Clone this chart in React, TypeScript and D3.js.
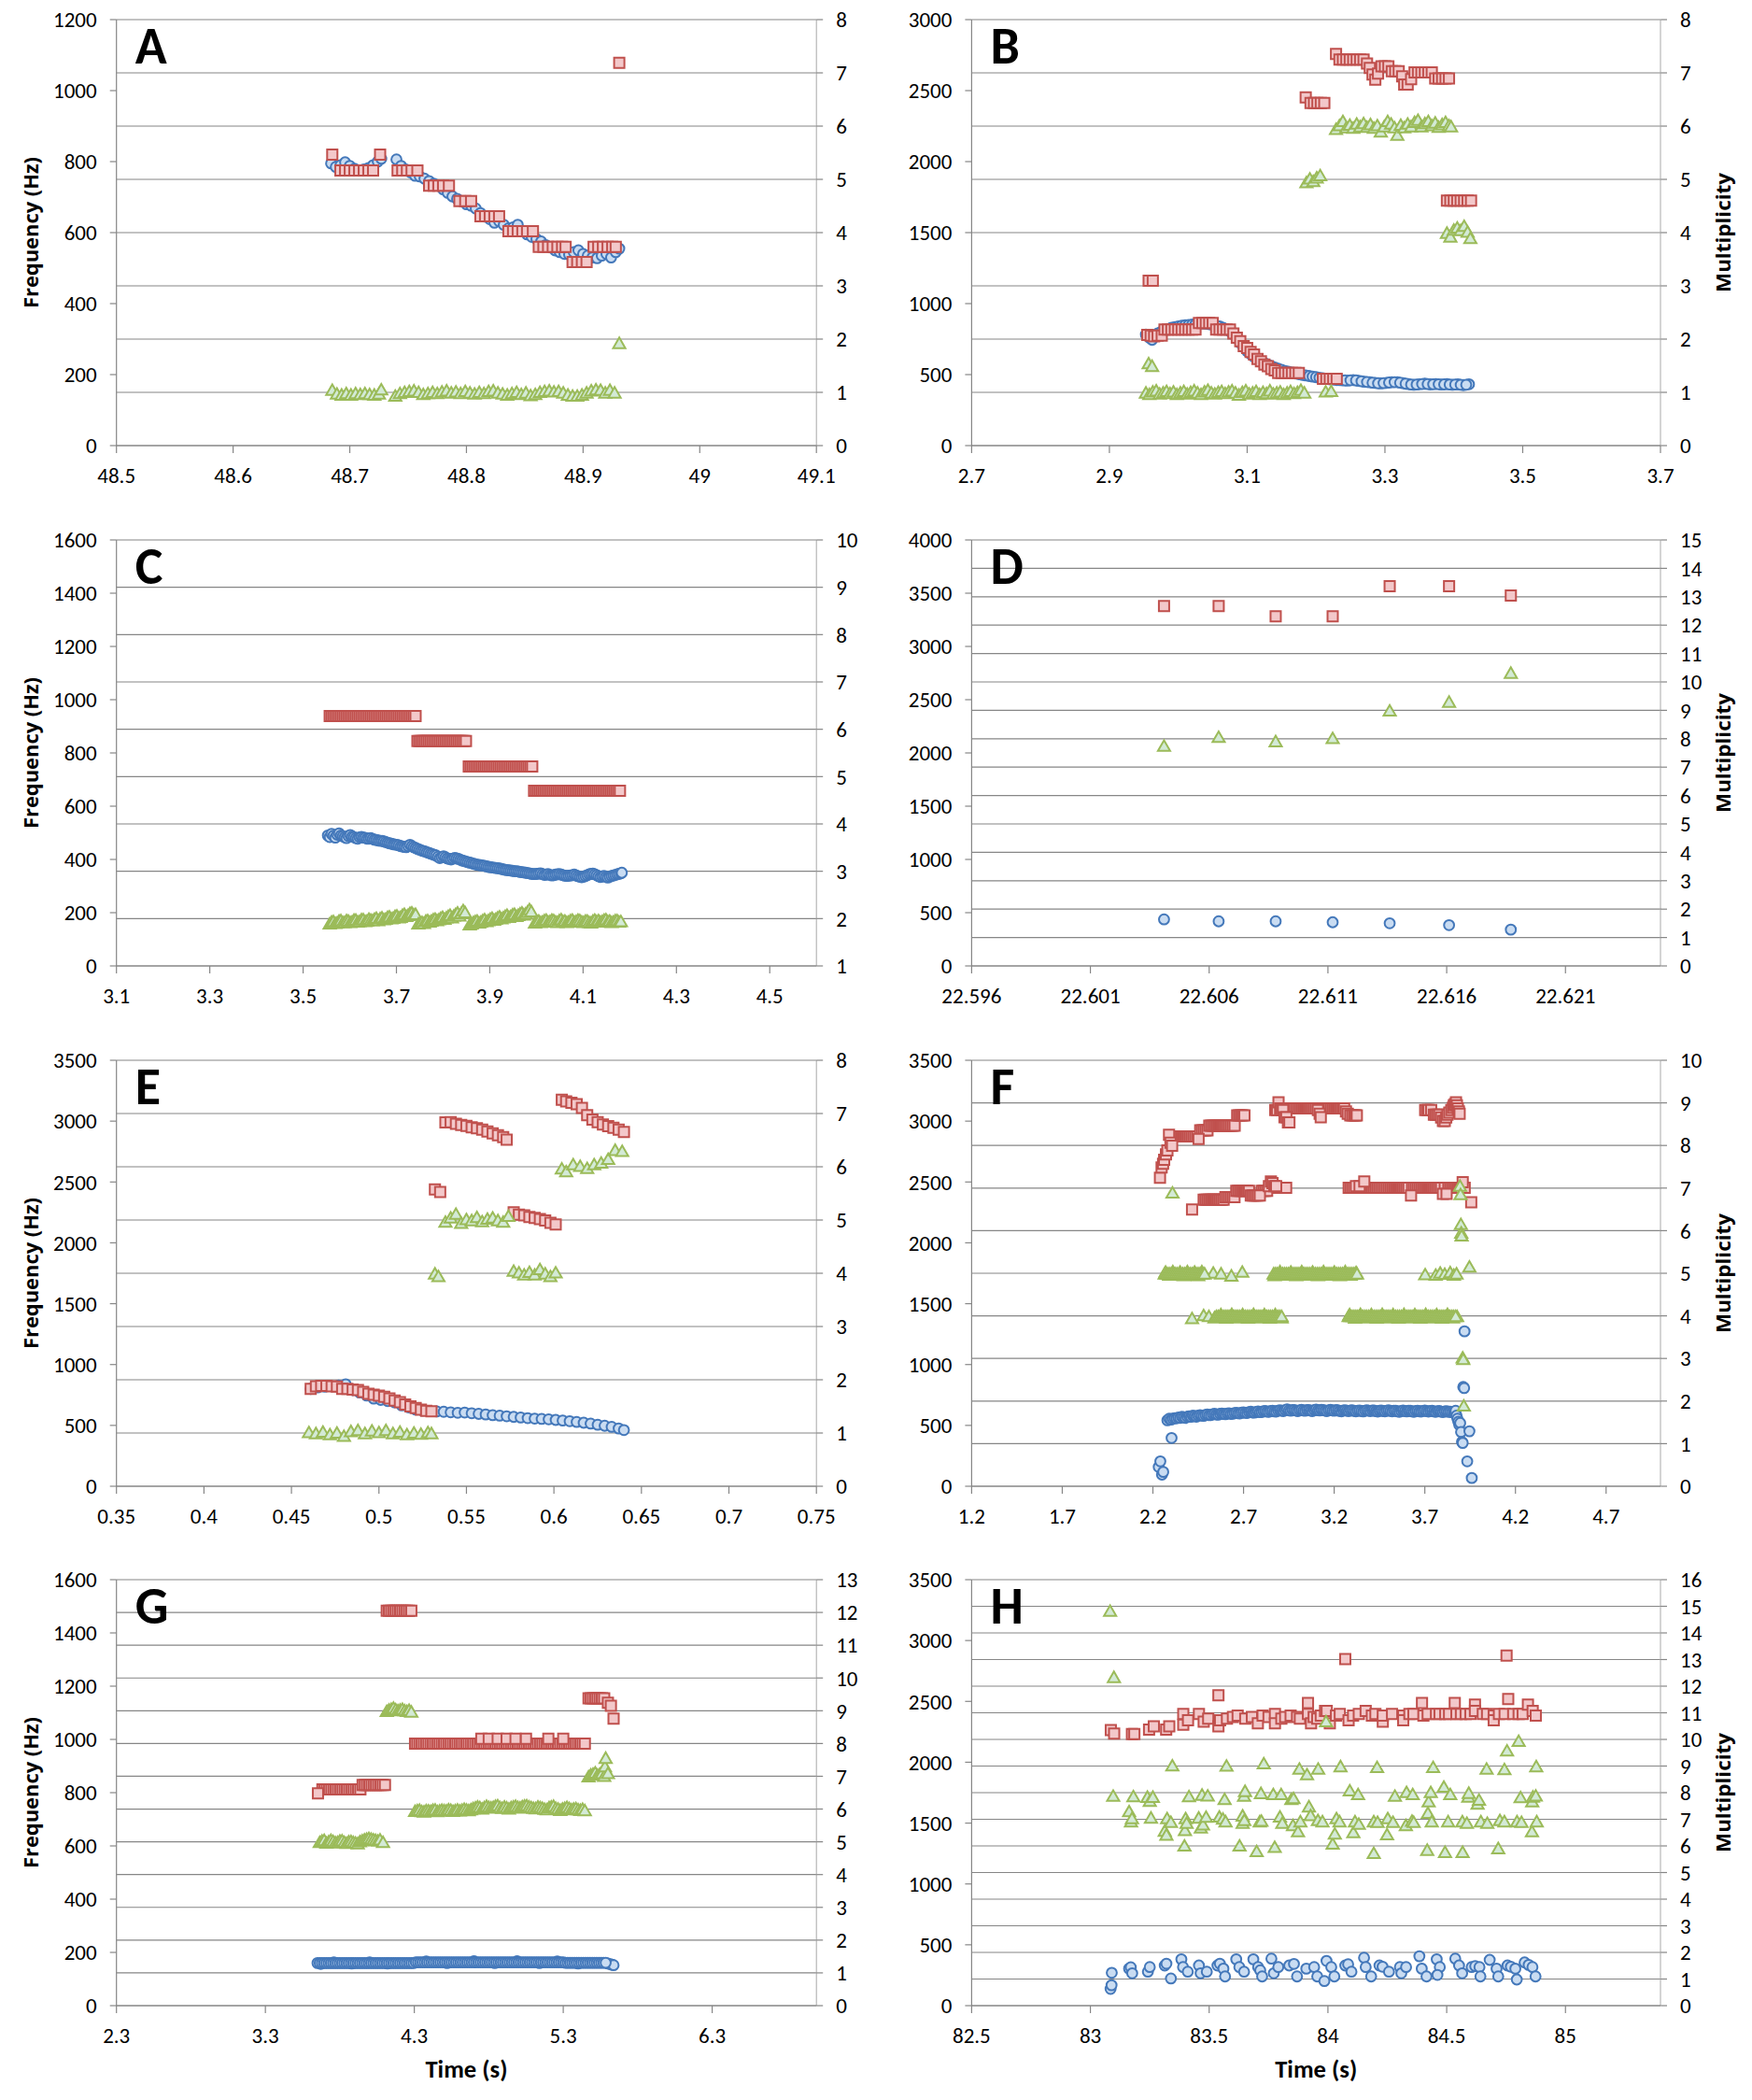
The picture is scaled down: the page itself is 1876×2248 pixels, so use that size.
import React from 'react';
import * as d3 from 'd3';

// ---------- axis ticks ----------
const aTimeTicks = [48.5, 48.6, 48.7, 48.8, 48.9, 49, 49.1];
const bTimeTicks = [2.7, 2.9, 3.1, 3.3, 3.5, 3.7];
const cTimeTicks = [3.1, 3.3, 3.5, 3.7, 3.9, 4.1, 4.3, 4.5];
const dTimeTicks = [22.596, 22.601, 22.606, 22.611, 22.616, 22.621];
const eTimeTicks = [0.35, 0.4, 0.45, 0.5, 0.55, 0.6, 0.65, 0.7, 0.75];
const fTimeTicks = [1.2, 1.7, 2.2, 2.7, 3.2, 3.7, 4.2, 4.7];
const gTimeTicks = [2.3, 3.3, 4.3, 5.3, 6.3];
const hTimeTicks = [82.5, 83, 83.5, 84, 84.5, 85];

const freq1200 = [0, 200, 400, 600, 800, 1000, 1200];
const freq1600 = [0, 200, 400, 600, 800, 1000, 1200, 1400, 1600];
const freq3000 = [0, 500, 1000, 1500, 2000, 2500, 3000];
const freq3500 = [0, 500, 1000, 1500, 2000, 2500, 3000, 3500];
const freq4000 = [0, 500, 1000, 1500, 2000, 2500, 3000, 3500, 4000];

const mult8 = [0, 1, 2, 3, 4, 5, 6, 7, 8];
const mult1to10 = [1, 2, 3, 4, 5, 6, 7, 8, 9, 10];
const mult10 = [0, 1, 2, 3, 4, 5, 6, 7, 8, 9, 10];
const mult13 = [0, 1, 2, 3, 4, 5, 6, 7, 8, 9, 10, 11, 12, 13];
const mult15 = [0, 1, 2, 3, 4, 5, 6, 7, 8, 9, 10, 11, 12, 13, 14, 15];
const mult16 = [0, 1, 2, 3, 4, 5, 6, 7, 8, 9, 10, 11, 12, 13, 14, 15, 16];

// rows of frames that sit on one quantised level: [level, times]
const rows = (list) => list.flatMap(([lvl, ts]) => ts.map(t => [t, lvl]));

// ---------- panel A ----------
const aBlue = [[48.684,795],[48.688,785],[48.692,790],[48.696,798],[48.700,788],[48.704,780],[48.708,775],[48.712,778],[48.716,782],[48.720,790],[48.724,800],[48.727,808],
[48.740,806],[48.744,788],[48.748,778],[48.752,770],[48.756,760],[48.760,758],[48.764,752],[48.768,745],[48.772,738],[48.776,732],[48.780,722],[48.784,712],[48.788,702],[48.792,695],[48.796,688],[48.800,680],[48.804,676],[48.808,668],[48.812,655],[48.816,645],[48.820,638],[48.824,628],[48.828,632],[48.832,622],[48.836,612],[48.840,615],[48.844,622],[48.848,605],[48.852,595],[48.856,588],[48.860,582],[48.864,575],[48.868,565],[48.872,558],[48.876,550],[48.880,545],[48.884,540],[48.888,538],[48.892,545],[48.896,550],[48.900,540],[48.904,535],[48.908,530],[48.912,528],[48.916,535],[48.920,540],[48.924,530],[48.928,545],[48.931,555]];
const aRed = [[48.685,820],[48.692,775],[48.696,775],[48.700,775],[48.704,775],[48.708,775],[48.712,775],[48.716,775],[48.720,775],[48.726,820],[48.741,775],[48.745,775],[48.749,775],[48.753,775],[48.758,775],[48.768,732],[48.772,732],[48.776,732],[48.780,732],[48.785,732],[48.794,689],[48.799,689],[48.804,689],[48.812,646],[48.816,646],[48.820,646],[48.824,646],[48.828,646],[48.836,604],[48.840,604],[48.844,604],[48.848,604],[48.852,604],[48.857,604],[48.862,560],[48.866,560],[48.870,560],[48.874,560],[48.878,560],[48.882,560],[48.885,560],[48.891,517],[48.895,517],[48.899,517],[48.903,517],[48.909,560],[48.913,560],[48.917,560],[48.921,560],[48.925,560],[48.928,560],[48.931,1078]];
const aGreen = [[48.685,1.05],[48.689,0.98],[48.693,0.96],[48.697,0.99],[48.701,0.96],[48.705,0.99],[48.709,0.97],[48.713,0.99],[48.717,0.97],[48.721,0.96],[48.725,0.98],[48.727,1.06],[48.739,0.94],[48.743,0.99],[48.747,1.01],[48.751,1.03],[48.755,1.04],[48.759,1.01],[48.763,0.97],[48.767,0.99],[48.771,1.01],[48.775,0.99],[48.779,1.02],[48.783,1.04],[48.787,1.0],[48.791,1.02],[48.795,0.99],[48.799,1.03],[48.803,1.0],[48.807,0.98],[48.811,1.01],[48.815,0.99],[48.819,1.03],[48.823,1.04],[48.827,1.0],[48.831,0.98],[48.835,0.96],[48.839,0.99],[48.843,1.01],[48.847,0.97],[48.851,1.0],[48.855,0.95],[48.859,0.97],[48.863,1.01],[48.867,1.03],[48.871,1.04],[48.875,1.02],[48.879,1.03],[48.883,1.0],[48.887,0.96],[48.891,0.94],[48.895,0.94],[48.899,0.96],[48.903,1.0],[48.907,1.04],[48.911,1.06],[48.915,1.05],[48.919,1.0],[48.923,1.05],[48.927,1.0],[48.931,1.93]];

// ---------- panel B ----------
const bBlue = [[2.953,782],[2.958,760],[2.962,745],[2.966,770],[2.970,790],[2.975,800],[2.980,810],[2.985,820],[2.990,830],[2.995,835],[3.000,840],[3.005,845],[3.010,848],[3.015,850],[3.020,852],[3.025,855],[3.030,858],[3.035,860],[3.040,858],[3.045,855],[3.050,850],[3.055,845],[3.060,840],[3.065,830],[3.070,818],[3.075,805],[3.080,785],[3.085,755],[3.090,722],[3.095,692],[3.100,665],[3.105,645],[3.110,625],[3.115,610],[3.120,595],[3.125,582],[3.130,570],[3.135,560],[3.140,550],[3.145,541],[3.150,533],[3.155,526],[3.160,520],[3.165,513],[3.170,508],[3.175,503],[3.180,498],[3.185,494],[3.190,490],[3.195,486],[3.200,482],[3.205,478],[3.210,474],[3.215,470],[3.220,467],[3.225,465],[3.230,462],[3.238,460],[3.246,458],[3.254,462],[3.262,456],[3.270,450],[3.278,446],[3.286,441],[3.294,438],[3.302,442],[3.310,446],[3.318,447],[3.326,440],[3.334,433],[3.342,428],[3.350,432],[3.358,436],[3.366,431],[3.374,434],[3.382,430],[3.390,433],[3.398,428],[3.406,431],[3.414,426],[3.422,432],
[3.234,461],[3.242,459],[3.250,460],[3.258,459],[3.266,453],[3.274,448],[3.282,443],[3.290,439],[3.298,440],[3.306,444],[3.314,447],[3.322,443],[3.330,436],[3.338,430],[3.346,430],[3.354,434],[3.362,433],[3.370,432],[3.378,432],[3.386,431],[3.394,430],[3.402,430],[3.410,428],[3.418,429]];
const bRed = [[2.955,780],[2.960,775],[2.965,770],[2.970,775],[2.976,775],[2.980,817],[2.985,817],[2.990,817],[2.995,817],[3.000,817],[3.005,817],[3.010,817],[3.015,817],[3.020,817],[3.025,817],[3.030,864],[3.035,864],[3.040,864],[3.045,864],[3.050,864],[3.055,817],[3.060,817],[3.065,817],[3.070,817],[3.075,817],[3.080,790],[3.085,760],[3.090,735],[3.095,700],[3.100,688],[3.105,660],[3.110,641],[3.115,610],[3.120,594],[3.125,570],[3.130,559],[3.135,540],[3.140,530],[3.145,512],[3.150,512],[3.155,512],[3.160,512],[3.165,512],[3.170,512],[3.175,512],[3.210,470],[3.215,470],[3.220,470],[3.225,470],[3.230,470],
[2.957,1162],[2.963,1162],
[3.185,2453],[3.192,2413],[3.197,2413],[3.202,2413],[3.207,2413],[3.212,2413],
[3.229,2758],[3.234,2718],[3.239,2718],[3.244,2718],[3.249,2718],[3.254,2718],[3.259,2718],[3.264,2718],[3.269,2718],[3.274,2690],[3.278,2660],[3.282,2613],[3.286,2577],[3.290,2620],[3.295,2671],[3.300,2671],[3.305,2671],[3.310,2636],[3.315,2636],[3.320,2636],[3.325,2600],[3.328,2542],[3.333,2542],[3.338,2580],[3.343,2629],[3.348,2629],[3.353,2629],[3.358,2629],[3.363,2629],[3.368,2629],[3.373,2585],[3.378,2585],[3.383,2585],[3.388,2585],[3.393,2585],
[3.390,1725],[3.395,1725],[3.400,1725],[3.405,1725],[3.410,1725],[3.415,1725],[3.420,1725],[3.425,1725]];
const bGreen = [[2.953,1.0],[2.958,0.97],[2.963,1.02],[2.968,1.04],[2.973,0.98],[2.978,1.0],[2.983,1.03],[2.988,0.99],[2.993,1.02],[2.998,0.97],[3.003,1.0],[3.008,1.03],[3.013,0.98],[3.018,1.01],[3.023,1.04],[3.028,1.0],[3.033,0.97],[3.038,1.02],[3.043,1.05],[3.048,1.0],[3.053,0.98],[3.058,1.01],[3.063,1.03],[3.068,0.99],[3.073,1.02],[3.078,1.04],[3.083,1.0],[3.088,0.96],[3.093,1.01],[3.098,1.04],[3.103,0.98],[3.108,1.0],[3.113,1.03],[3.118,0.97],[3.123,1.01],[3.128,0.99],[3.133,1.04],[3.138,0.98],[3.143,1.0],[3.148,1.02],[3.153,0.97],[3.158,1.0],[3.163,1.03],[3.168,0.99],[3.173,1.01],[3.178,1.05],[3.183,1.0],
[2.957,1.55],[2.962,1.5],[3.214,1.02],[3.222,1.03],
[3.186,4.95],[3.191,5.02],[3.196,4.97],[3.201,5.04],[3.206,5.08],
[3.229,5.95],[3.234,6.02],[3.239,6.1],[3.244,5.98],[3.249,6.03],[3.254,5.97],[3.259,6.05],[3.264,6.0],[3.269,6.06],[3.274,5.99],[3.279,6.04],[3.284,5.97],[3.289,6.02],[3.294,5.9],[3.299,6.0],[3.304,6.1],[3.309,6.05],[3.314,5.98],[3.318,5.84],[3.323,6.03],[3.328,5.98],[3.333,6.05],[3.338,6.0],[3.343,6.08],[3.348,6.12],[3.353,6.0],[3.358,6.06],[3.363,6.1],[3.368,6.02],[3.373,6.07],[3.378,5.99],[3.383,6.04],[3.388,6.08],[3.393,6.02],[3.396,6.0],
[3.390,4.0],[3.395,3.93],[3.400,4.06],[3.405,4.1],[3.410,4.05],[3.415,4.13],[3.420,4.02],[3.424,3.9]];

// ---------- panel C ----------
const cBlue = [[3.553,490],[3.557,484],[3.561,496],[3.565,489],[3.569,482],[3.573,493],[3.577,498],[3.581,490],[3.585,487],[3.589,483],[3.593,480],[3.597,488],[3.601,492],[3.605,486],[3.609,484],[3.613,480],[3.617,478],[3.621,483],[3.625,485],[3.629,482],[3.633,481],[3.637,478],[3.641,478],[3.645,480],[3.649,477],[3.653,474],[3.657,473],[3.661,471],[3.665,470],[3.669,470],[3.673,468],[3.677,465],[3.681,463],[3.685,461],[3.689,459],[3.693,457],[3.697,456],[3.701,455],[3.705,453],[3.709,450],[3.713,449],[3.717,447],[3.721,446],[3.725,450],[3.729,455],[3.733,450],[3.737,446],[3.741,443],[3.745,440],[3.749,437],[3.753,434],[3.757,432],[3.761,430],[3.765,427],[3.769,425],[3.773,422],[3.777,420],[3.781,417],[3.785,415],[3.789,410],[3.793,405],[3.797,408],[3.801,412],[3.805,408],[3.809,404],[3.813,402],[3.817,400],[3.821,403],[3.825,406],[3.829,404],[3.833,402],[3.837,399],[3.841,396],[3.845,394],[3.849,392],[3.853,390],[3.857,388],[3.861,386],[3.865,384],[3.869,382],[3.873,380],[3.877,379],[3.881,378],[3.885,377],[3.889,376],[3.893,374],[3.897,372],[3.901,371],[3.905,370],[3.909,369],[3.913,368],[3.917,367],[3.921,366],[3.925,364],[3.929,363],[3.933,361],[3.937,360],[3.941,359],[3.945,358],[3.949,357],[3.953,356],[3.957,356],[3.961,355],[3.965,353],[3.969,352],[3.973,351],[3.977,350],[3.981,349],[3.985,348],[3.989,346],[3.993,345],[3.997,345],[4.001,346],[4.005,347],[4.009,348],[4.013,345],[4.017,342],[4.021,343],[4.025,345],[4.029,342],[4.033,340],[4.037,341],[4.041,343],[4.045,344],[4.049,345],[4.053,343],[4.057,341],[4.061,339],[4.065,338],[4.069,339],[4.073,340],[4.077,341],[4.081,343],[4.085,340],[4.089,337],[4.093,335],[4.097,333],[4.101,335],[4.105,338],[4.109,341],[4.113,344],[4.117,346],[4.121,347],[4.125,344],[4.129,341],[4.133,337],[4.137,334],[4.141,336],[4.145,338],[4.149,335],[4.153,332],[4.157,335],[4.161,338],[4.165,340],[4.169,342],[4.173,344],[4.177,346],[4.181,348],[4.183,350]];
const cRedRows = [
  [939, [3.557,3.561,3.565,3.569,3.573,3.577,3.581,3.585,3.589,3.593,3.597,3.601,3.605,3.609,3.613,3.617,3.621,3.625,3.629,3.633,3.637,3.641,3.645,3.649,3.653,3.657,3.661,3.665,3.669,3.673,3.677,3.681,3.685,3.689,3.693,3.697,3.701,3.705,3.709,3.713,3.717,3.721,3.725,3.729,3.733,3.737,3.741]],
  [845, [3.745,3.749,3.753,3.757,3.761,3.765,3.769,3.773,3.777,3.781,3.785,3.789,3.793,3.797,3.801,3.805,3.809,3.813,3.817,3.821,3.825,3.829,3.833,3.837,3.841,3.845,3.849]],
  [749, [3.855,3.859,3.863,3.867,3.871,3.875,3.879,3.883,3.887,3.891,3.895,3.899,3.903,3.907,3.911,3.915,3.919,3.923,3.927,3.931,3.935,3.939,3.943,3.947,3.951,3.955,3.959,3.963,3.967,3.971,3.975,3.979,3.983,3.987,3.991]],
  [658, [3.995,3.999,4.003,4.007,4.011,4.015,4.019,4.023,4.027,4.031,4.035,4.039,4.043,4.047,4.051,4.055,4.059,4.063,4.067,4.071,4.075,4.079,4.083,4.087,4.091,4.095,4.099,4.103,4.107,4.111,4.115,4.119,4.123,4.127,4.131,4.135,4.139,4.143,4.147,4.151,4.155,4.159,4.163,4.167,4.171,4.175,4.179]],
];
const cGreen = [[3.557,1.90],[3.561,1.94],[3.565,1.95],[3.569,1.91],[3.573,1.92],[3.577,1.96],[3.581,1.97],[3.585,1.93],[3.589,1.93],[3.593,1.97],[3.597,1.96],[3.601,1.93],[3.605,1.94],[3.609,1.98],[3.613,1.98],[3.617,1.94],[3.621,1.95],[3.625,1.99],[3.629,1.99],[3.633,1.95],[3.637,1.96],[3.641,2.0],[3.645,1.98],[3.649,1.97],[3.653,2.0],[3.657,2.02],[3.661,1.97],[3.665,2.01],[3.669,2.03],[3.673,1.99],[3.677,2.0],[3.681,2.04],[3.685,2.05],[3.689,2.01],[3.693,2.02],[3.697,2.06],[3.701,2.07],[3.705,2.03],[3.709,2.04],[3.713,2.08],[3.717,2.1],[3.721,2.06],[3.725,2.08],[3.729,2.12],[3.733,2.13],[3.737,2.09],[3.741,2.1],
[3.747,1.9],[3.751,1.92],[3.755,1.93],[3.759,1.91],[3.763,1.96],[3.767,1.97],[3.771,1.94],[3.775,1.96],[3.779,1.99],[3.783,2.0],[3.787,1.97],[3.791,1.99],[3.795,2.02],[3.799,2.04],[3.803,2.0],[3.807,2.03],[3.811,2.06],[3.815,2.08],[3.819,2.03],[3.823,2.07],[3.827,2.1],[3.831,2.13],[3.835,2.07],[3.839,2.12],[3.843,2.18],[3.847,2.14],
[3.857,1.88],[3.861,1.9],[3.865,1.93],[3.869,1.95],[3.873,1.96],[3.877,1.92],[3.881,1.94],[3.885,1.97],[3.889,1.99],[3.893,1.95],[3.897,1.97],[3.901,2.0],[3.905,2.02],[3.909,1.98],[3.913,2.0],[3.917,2.03],[3.921,2.05],[3.925,2.01],[3.929,2.03],[3.933,2.06],[3.937,2.08],[3.941,2.04],[3.945,2.06],[3.949,2.09],[3.953,2.1],[3.957,2.06],[3.961,2.08],[3.965,2.11],[3.969,2.13],[3.973,2.09],[3.977,2.11],[3.981,2.15],[3.985,2.2],[3.989,2.16],
[3.997,1.92],[4.001,1.95],[4.005,1.96],[4.009,1.93],[4.013,1.94],[4.017,1.97],[4.021,1.98],[4.025,1.94],[4.029,1.95],[4.033,1.98],[4.037,1.97],[4.041,1.94],[4.045,1.93],[4.049,1.97],[4.053,1.99],[4.057,1.95],[4.061,1.96],[4.065,1.93],[4.069,1.94],[4.073,1.97],[4.077,1.98],[4.081,1.94],[4.085,1.95],[4.089,1.98],[4.093,1.97],[4.097,1.94],[4.101,1.93],[4.105,1.96],[4.109,1.96],[4.113,1.93],[4.117,1.92],[4.121,1.96],[4.125,1.98],[4.129,1.95],[4.133,1.97],[4.137,1.94],[4.141,1.95],[4.145,1.98],[4.149,1.99],[4.153,1.95],[4.157,1.96],[4.161,1.93],[4.165,1.94],[4.169,1.97],[4.173,1.97],[4.177,1.94],[4.181,1.95]];

// ---------- panel D ----------
const dBlue = [[22.6041,437],[22.6064,419],[22.6088,419],[22.6112,410],[22.6136,401],[22.6161,383],[22.6187,341]];
const dRed = [[22.6041,3379],[22.6064,3379],[22.6088,3282],[22.6112,3282],[22.6136,3566],[22.6161,3566],[22.6187,3478]];
const dGreen = [[22.6041,7.76],[22.6064,8.07],[22.6088,7.92],[22.6112,8.03],[22.6136,9.0],[22.6161,9.31],[22.6187,10.33]];

// ---------- panel E ----------
const eBlue = [[0.461,800],[0.465,812],[0.469,818],[0.473,822],[0.477,828],[0.481,838],[0.485,790],[0.489,770],[0.493,745],[0.497,720],[0.501,710],[0.505,700],[0.509,690],[0.513,665],[0.517,648],[0.521,630],[0.525,622],[0.529,618],[0.533,615],[0.537,612],[0.541,608],[0.545,604],[0.549,606],[0.553,600],[0.557,595],[0.561,590],[0.565,584],[0.569,580],[0.573,575],[0.577,570],[0.581,565],[0.585,560],[0.589,556],[0.593,553],[0.597,550],[0.601,545],[0.605,540],[0.609,535],[0.613,528],[0.617,522],[0.621,515],[0.625,505],[0.629,497],[0.633,488],[0.637,475],[0.640,462]];
const eRed = [[0.461,800],[0.464,822],[0.467,825],[0.470,825],[0.473,822],[0.476,820],[0.479,800],[0.482,800],[0.485,795],[0.488,790],[0.491,775],[0.494,760],[0.497,752],[0.500,745],[0.503,735],[0.506,722],[0.509,705],[0.512,690],[0.515,672],[0.518,656],[0.521,642],[0.524,630],[0.527,620],[0.530,615],
[0.532,2438],[0.535,2417],
[0.538,2990],[0.541,2992],[0.544,2978],[0.547,2968],[0.550,2960],[0.553,2950],[0.556,2942],[0.559,2930],[0.562,2915],[0.565,2900],[0.568,2885],[0.571,2868],[0.573,2848],
[0.577,2250],[0.580,2232],[0.583,2226],[0.586,2212],[0.589,2205],[0.592,2195],[0.595,2183],[0.598,2165],[0.601,2152],
[0.6045,3175],[0.607,3162],[0.610,3150],[0.613,3140],[0.616,3108],[0.619,3050],[0.622,3012],[0.625,2992],[0.628,2972],[0.631,2958],[0.634,2945],[0.637,2930],[0.640,2910]];
const eGreen = [[0.460,1.02],[0.464,1.0],[0.468,1.03],[0.472,0.98],[0.476,1.01],[0.480,0.95],[0.484,1.04],[0.488,1.06],[0.492,1.0],[0.496,1.05],[0.500,1.02],[0.504,1.06],[0.508,1.0],[0.512,1.03],[0.516,0.98],[0.520,1.01],[0.524,0.99],[0.528,1.02],[0.530,1.0],
[0.532,4.0],[0.534,3.95],
[0.538,4.97],[0.541,5.05],[0.544,5.12],[0.547,4.95],[0.550,5.02],[0.553,5.0],[0.556,5.06],[0.559,4.98],[0.562,5.03],[0.565,5.05],[0.568,5.0],[0.571,4.97],[0.574,5.08],
[0.577,4.05],[0.580,4.02],[0.583,3.98],[0.586,4.03],[0.589,3.98],[0.592,4.08],[0.595,4.0],[0.598,3.95],[0.601,4.02],
[0.6045,5.97],[0.607,5.92],[0.611,6.05],[0.615,6.02],[0.619,5.98],[0.623,6.05],[0.627,6.08],[0.631,6.15],[0.635,6.32],[0.639,6.3]];

// ---------- panel F ----------
const fBlue = [[2.28,542],[2.29,555],[2.30,548],[2.31,556],[2.32,560],[2.33,558],[2.34,565],[2.35,562],[2.36,570],[2.37,566],[2.38,562],[2.39,570],[2.40,575],[2.41,571],[2.42,580],[2.43,576],[2.44,572],[2.45,580],[2.46,585],[2.47,581],[2.48,578],[2.49,586],[2.50,590],[2.51,584],[2.52,585],[2.53,592],[2.54,595],[2.55,590],[2.56,588],[2.57,595],[2.58,598],[2.59,594],[2.60,592],[2.61,598],[2.62,600],[2.63,595],[2.64,596],[2.65,602],[2.66,604],[2.67,599],[2.68,598],[2.69,605],[2.70,608],[2.71,603],[2.72,602],[2.73,609],[2.74,612],[2.75,606],[2.76,605],[2.77,611],[2.78,615],[2.79,609],[2.80,610],[2.81,616],[2.82,618],[2.83,613],[2.84,612],[2.85,618],[2.86,620],[2.87,615],[2.88,614],[2.89,621],[2.90,625],[2.91,620],[2.92,618],[2.93,626],[2.94,632],[2.95,624],[2.96,620],[2.97,627],[2.98,626],[2.99,621],[3.00,618],[3.01,625],[3.02,628],[3.03,622],[3.04,620],[3.05,627],[3.06,626],[3.07,621],[3.08,618],[3.09,626],[3.10,630],[3.11,624],[3.12,622],[3.13,628],[3.14,626],[3.15,621],[3.16,618],[3.17,625],[3.18,628],[3.19,623],[3.20,620],[3.21,626],[3.22,624],[3.23,619],[3.24,616],[3.25,622],[3.26,625],[3.27,620],[3.28,618],[3.29,623],[3.30,624],[3.31,619],[3.32,616],[3.33,621],[3.34,622],[3.35,618],[3.36,615],[3.37,621],[3.38,624],[3.39,620],[3.40,618],[3.41,623],[3.42,622],[3.43,617],[3.44,614],[3.45,620],[3.46,622],[3.47,618],[3.48,616],[3.49,621],[3.50,624],[3.51,619],[3.52,616],[3.53,621],[3.54,620],[3.55,615],[3.56,612],[3.57,618],[3.58,622],[3.59,618],[3.60,615],[3.61,620],[3.62,620],[3.63,615],[3.64,612],[3.65,618],[3.66,620],[3.67,616],[3.68,614],[3.69,619],[3.70,622],[3.71,617],[3.72,614],[3.73,619],[3.74,620],[3.75,615],[3.76,612],[3.77,617],[3.78,618],[3.79,613],[3.80,610],[3.81,615],[3.82,616],[3.83,612],[3.84,612],[3.85,608],[3.86,605],[3.865,612],[3.870,620],[3.875,580],[3.880,555],[3.885,530],[3.890,505],[3.895,520],
[2.232,159],[2.241,205],[2.250,96],[2.257,118],[2.303,397],[3.900,446],[3.905,364],[3.909,356],[3.912,816],[3.917,807],[3.919,1273],[3.934,205],[3.946,452],[3.959,68]];
const fRedRows = [
  [2874, [2.315,2.325,2.335,2.345,2.355,2.365,2.375,2.385,2.395,2.405,2.415,2.425,2.435,2.445]],
  [2925, [2.461,2.471,2.481,2.491,2.501]],
  [2963, [2.511,2.521,2.531,2.541,2.551,2.561,2.571,2.581,2.591,2.601,2.611,2.621,2.631,2.641,2.651]],
  [3047, [2.665,2.675,2.685,2.695,2.705]],
  [3104, [2.960,2.970,2.980,2.990,3.000,3.010,3.020,3.030,3.040,3.050,3.060,3.070,3.080,3.090,3.100,3.140,3.150,3.160,3.170,3.180,3.190,3.200,3.210,3.220,3.230,3.240,3.250,3.255]],
  [2355, [2.480,2.490,2.500,2.510,2.520,2.530,2.540,2.550,2.560,2.570,2.580,2.590]],
  [2376, [2.600,2.610,2.620,2.630,2.640,2.650]],
  [2427, [2.660,2.670,2.680,2.690,2.700,2.710,2.720,2.730,2.800,2.810,2.820,2.830]],
  [2389, [2.740,2.750,2.760,2.770,2.780,2.790]],
  [2453, [2.890,2.900,2.910,2.920,2.935,3.28,3.29,3.30,3.31,3.33,3.35,3.36,3.37,3.38,3.39,3.40,3.41,3.42,3.43,3.44,3.45,3.46,3.47,3.48,3.49,3.50,3.51,3.52,3.53,3.54,3.55,3.56,3.57,3.58,3.59,3.60,3.61,3.63,3.64,3.65,3.66,3.67,3.68,3.69,3.70,3.71,3.72,3.73,3.74,3.75,3.76,3.77,3.78,3.79,3.81,3.83,3.84,3.85,3.86,3.87,3.88,3.89,3.90,3.92]],
];
const fRedExtra = [[2.239,2534],[2.248,2619],[2.256,2650],[2.262,2683],[2.272,2726],[2.280,2759],[2.289,2887],[2.297,2823],[2.306,2798],[2.452,2853],
[2.875,3091],[2.885,3091],[2.893,3155],[2.902,3104],[2.910,3091],[2.918,3091],[2.926,3032],[2.936,3032],[2.945,2989],[2.953,2989],[3.110,3091],[3.120,3060],[3.126,3032],[3.265,3080],[3.275,3060],[3.289,3047],[3.300,3047],[3.310,3047],[3.318,3047],[3.325,3047],
[3.702,3091],[3.712,3091],[3.720,3091],[3.735,3091],[3.750,3053],[3.760,3053],[3.770,3053],[3.780,3053],[3.790,3030],[3.800,3002],[3.810,3002],[3.818,3030],[3.825,3053],[3.835,3070],[3.846,3091],[3.855,3110],[3.860,3130],[3.866,3140],[3.872,3155],[3.877,3130],[3.882,3104],[3.888,3080],[3.892,3060],
[2.416,2274],[2.840,2466],[2.851,2504],[2.860,2490],[2.870,2466],[2.880,2466],[3.320,2466],[3.340,2466],[3.366,2504],[3.624,2389],[3.800,2402],[3.820,2402],[3.909,2499],[3.956,2334]];
const fGreenRows = [
  [5.0, [2.265,2.275,2.285,2.295,2.305,2.315,2.325,2.335,2.345,2.355,2.365,2.375,2.385,2.395,2.405,2.415,2.425,2.435,2.445,2.455,2.465,2.475,2.485,
         2.866,2.876,2.886,2.896,2.906,2.916,2.926,2.936,2.946,2.956,2.966,2.976,2.986,2.996,3.006,3.016,3.026,3.036,3.046,3.056,3.066,3.076,3.086,3.096,3.106,3.116,3.126,3.136,3.146,3.156,3.166,3.176,3.186,3.196,3.206,3.216,3.226,3.236,3.246,3.256,3.266,3.276,3.286,3.296,3.306,3.316,3.326]],
  [4.0, [2.55,2.56,2.57,2.58,2.59,2.60,2.61,2.62,2.63,2.64,2.65,2.66,2.67,2.68,2.69,2.70,2.71,2.72,2.73,2.74,2.75,2.76,2.77,2.78,2.79,2.80,2.81,2.82,2.83,2.84,2.85,2.86,2.87,2.88,2.89,2.90,2.91,
         3.28,3.29,3.30,3.31,3.32,3.33,3.34,3.35,3.36,3.37,3.38,3.39,3.40,3.41,3.42,3.43,3.44,3.45,3.46,3.47,3.48,3.49,3.50,3.51,3.52,3.53,3.54,3.55,3.56,3.57,3.58,3.59,3.60,3.61,3.62,3.63,3.64,3.65,3.66,3.67,3.68,3.69,3.70,3.71,3.72,3.73,3.74,3.75,3.76,3.77,3.78,3.79,3.80,3.81,3.82,3.83,3.84,3.85,3.86,3.87]],
];
const fGreenExtra = [[2.308,6.9],
[2.270,5.04],[2.290,4.97],[2.310,5.05],[2.330,4.97],[2.350,5.04],[2.370,4.96],[2.390,5.05],[2.410,4.97],[2.430,5.04],[2.450,4.96],[2.470,5.05],[2.533,5.02],[2.576,5.0],[2.633,4.95],[2.693,5.04],
[2.871,4.96],[2.901,5.05],[2.931,4.97],[2.961,5.04],[2.991,4.96],[3.021,5.05],[3.051,4.97],[3.081,5.04],[3.111,4.96],[3.141,5.05],[3.171,4.97],[3.201,5.04],[3.231,4.96],[3.261,5.05],[3.291,4.97],[3.321,5.03],
[3.702,4.98],[3.760,4.97],[3.785,5.02],[3.810,4.99],[3.840,5.03],[3.860,4.97],[3.875,5.0],[3.946,5.16],
[2.416,3.95],[2.480,4.02],[2.509,4.0],[2.540,3.97],[2.575,4.04],[2.605,3.96],[2.635,4.05],[2.665,3.97],[2.695,4.04],[2.725,3.96],[2.755,4.05],[2.785,3.97],[2.815,4.04],[2.845,3.96],[2.875,4.04],[2.910,3.97],
[3.285,4.04],[3.315,3.96],[3.345,4.05],[3.375,3.97],[3.405,4.04],[3.435,3.96],[3.465,4.05],[3.495,3.97],[3.525,4.04],[3.555,3.96],[3.585,4.05],[3.615,3.97],[3.645,4.04],[3.675,3.96],[3.705,4.05],[3.735,3.97],[3.765,4.04],[3.795,3.96],[3.825,4.05],[3.855,3.97],[3.878,4.0],
[3.894,7.06],[3.897,6.86],[3.899,6.16],[3.901,5.96],[3.903,5.89],[3.909,3.03],[3.912,2.99],[3.915,1.9]];

// ---------- panel G ----------
const gBlueRows = [
  [160, [3.650,3.665,3.680,3.695,3.710,3.725,3.740,3.755,3.770,3.785,3.800,3.815,3.830,3.845,3.860,3.875,3.890,3.905,3.920,3.935,3.950,3.965,3.980,3.995,4.010,4.025,4.040,4.055,4.070,4.085,4.100,4.115,4.130,4.145,4.160,4.175,4.190,4.205,4.220,4.235,4.250,4.265,4.280,4.295]],
  [163, [4.310,4.325,4.340,4.355,4.370,4.385,4.400,4.415,4.430,4.445,4.460,4.475,4.490,4.505,4.520,4.535,4.550,4.565,4.580,4.595,4.610,4.625,4.640,4.655,4.670,4.685,4.700,4.715,4.730,4.745,4.760,4.775,4.790,4.805,4.820,4.835,4.850,4.865,4.880,4.895,4.910,4.925,4.940,4.955,4.970,4.985,5.000,5.015,5.030,5.045,5.060,5.075,5.090,5.105,5.120,5.135,5.150,5.165,5.180,5.195,5.210,5.225,5.240,5.255,5.270,5.285,5.300]],
  [161, [5.315,5.330,5.345,5.360,5.375,5.390,5.405,5.420,5.435,5.450,5.465,5.480,5.495,5.510,5.525,5.540,5.555,5.570,5.585]],
];
const gBlueExtra = [[3.672,157],[3.760,163],[3.880,158],[4.000,163],[4.120,158],[4.380,166],[4.520,160],[4.700,167],[4.840,160],[4.990,167],[5.140,160],[5.260,166],[5.400,158],[5.600,158],[5.615,156],[5.628,154],[5.638,152]];
const gRedRows = [
  [812, [3.683,3.698,3.713,3.728,3.743,3.758,3.773,3.788,3.803,3.818,3.833,3.848,3.863,3.878,3.893,3.908,3.923,3.938]],
  [829, [3.953,3.968,3.983,3.998,4.013,4.028,4.043,4.058,4.073,4.088,4.103]],
  [1483, [4.115,4.130,4.145,4.160,4.175,4.190,4.205,4.220,4.235,4.250,4.265,4.280]],
  [984, [4.305,4.320,4.335,4.350,4.365,4.380,4.395,4.410,4.425,4.440,4.455,4.470,4.485,4.500,4.515,4.530,4.545,4.560,4.575,4.590,4.605,4.620,4.635,4.650,4.665,4.680,4.695,4.710,4.725,4.740,4.755,4.770,4.785,4.800,4.815,4.830,4.845,4.860,4.875,4.890,4.905,4.920,4.935,4.950,4.965,4.980,4.995,5.010,5.025,5.040,5.055,5.070,5.085,5.100,5.115,5.130,5.145,5.160,5.175,5.190,5.205,5.220,5.235,5.250,5.265,5.280,5.295,5.310,5.325,5.340,5.355,5.370,5.385,5.400,5.415,5.430,5.445]],
  [1003, [4.750,4.800,4.860,4.920,4.980,5.050,5.200,5.300]],
  [1154, [5.470,5.485,5.500,5.515,5.530,5.545,5.560,5.575]],
];
const gRedExtra = [[3.653,797],[5.600,1138],[5.620,1126],[5.638,1078]];
const gGreen = [[3.665,5.0],[3.680,5.04],[3.695,5.06],[3.710,4.98],[3.725,5.02],[3.740,5.06],[3.755,5.03],[3.770,4.99],[3.785,5.0],[3.800,5.04],[3.815,5.05],[3.830,5.0],[3.845,4.97],[3.860,5.02],[3.875,5.03],[3.890,5.0],[3.905,4.98],[3.920,4.96],[3.935,5.02],[3.950,5.05],[3.965,5.08],[3.980,5.1],[3.995,5.12],[4.010,5.1],[4.025,5.08],[4.040,5.06],[4.055,5.04],[4.070,5.08],[4.090,5.0],
[4.115,9.0],[4.130,9.04],[4.145,9.06],[4.160,9.1],[4.175,9.05],[4.190,9.02],[4.205,9.04],[4.220,9.06],[4.235,9.02],[4.250,9.0],[4.265,9.03],[4.280,8.98],
[4.305,5.95],[4.320,5.97],[4.335,5.98],[4.350,5.94],[4.365,5.93],[4.380,5.97],[4.395,5.96],[4.410,5.95],[4.425,5.98],[4.440,5.99],[4.455,5.94],[4.470,5.96],[4.485,5.98],[4.500,5.97],[4.515,5.96],[4.530,6.0],[4.545,5.98],[4.560,5.95],[4.575,5.97],[4.590,5.99],[4.605,5.96],[4.620,5.98],[4.635,6.01],[4.650,5.99],[4.665,5.97],[4.680,6.0],[4.695,6.03],[4.710,6.05],[4.725,6.08],[4.740,6.06],[4.755,6.02],[4.770,6.06],[4.785,6.1],[4.800,6.07],[4.815,6.05],[4.830,6.07],[4.845,6.1],[4.860,6.12],[4.875,6.06],[4.890,6.04],[4.905,6.08],[4.920,6.05],[4.935,6.02],[4.950,6.06],[4.965,6.08],[4.980,6.1],[4.995,6.07],[5.010,6.05],[5.025,6.09],[5.040,6.11],[5.055,6.12],[5.070,6.08],[5.085,6.06],[5.100,6.04],[5.115,6.03],[5.130,6.08],[5.145,6.06],[5.160,6.04],[5.175,6.01],[5.190,6.0],[5.205,6.06],[5.220,6.08],[5.235,6.1],[5.250,6.04],[5.265,6.02],[5.280,5.98],[5.295,6.02],[5.310,6.04],[5.325,6.07],[5.340,6.03],[5.355,6.0],[5.370,6.02],[5.385,6.03],[5.400,6.0],[5.415,5.98],[5.430,6.01],[5.445,5.97],
[5.470,7.0],[5.485,7.06],[5.500,7.08],[5.515,7.12],[5.530,7.05],[5.545,7.08],[5.560,7.1],[5.575,7.02],[5.580,7.31],[5.585,7.57],[5.600,7.1]];

// ---------- panel H ----------
const hBlue = [[83.085,138],[83.089,168],[83.090,270],[83.163,304],[83.170,315],[83.176,266],[83.242,279],[83.250,317],[83.313,330],[83.320,345],[83.339,223],[83.383,381],[83.390,317],[83.410,279],[83.457,330],[83.464,266],[83.490,279],[83.535,330],[83.545,345],[83.560,304],[83.567,240],[83.614,381],[83.627,317],[83.647,279],[83.686,381],[83.706,317],[83.715,290],[83.723,240],[83.762,386],[83.772,266],[83.791,317],[83.837,330],[83.857,343],[83.870,240],[83.909,304],[83.942,317],[83.955,240],[83.985,202],[83.994,368],[84.014,317],[84.027,240],[84.073,330],[84.085,340],[84.099,279],[84.152,394],[84.159,317],[84.182,240],[84.217,330],[84.230,320],[84.257,279],[84.303,317],[84.309,266],[84.329,317],[84.385,406],[84.395,304],[84.415,240],[84.458,381],[84.471,317],[84.461,253],[84.536,386],[84.552,330],[84.565,266],[84.605,317],[84.620,325],[84.638,317],[84.642,240],[84.681,376],[84.710,304],[84.717,240],[84.756,330],[84.770,320],[84.789,304],[84.795,215],[84.828,355],[84.845,335],[84.861,317],[84.874,240]];
const hRed = [[83.086,2264],[83.100,2236],[83.175,2231],[83.185,2231],[83.247,2269],[83.267,2294],[83.319,2269],[83.332,2294],[83.391,2397],[83.391,2308],[83.411,2345],[83.457,2397],[83.477,2333],[83.496,2358],[83.539,2550],[83.539,2294],[83.546,2345],[83.575,2358],[83.600,2371],[83.620,2384],[83.652,2358],[83.680,2371],[83.705,2320],[83.725,2384],[83.750,2371],[83.777,2397],[83.777,2320],[83.804,2358],[83.820,2371],[83.843,2384],[83.870,2371],[83.882,2358],[83.916,2486],[83.916,2397],[83.929,2320],[83.940,2371],[83.955,2358],[83.970,2384],[83.988,2422],[83.995,2422],[84.008,2320],[84.034,2384],[84.050,2397],[84.073,2848],[84.087,2345],[84.106,2384],[84.130,2397],[84.159,2422],[84.185,2384],[84.200,2397],[84.231,2333],[84.231,2384],[84.270,2397],[84.317,2384],[84.317,2345],[84.343,2397],[84.360,2397],[84.396,2486],[84.402,2384],[84.420,2397],[84.455,2397],[84.470,2397],[84.494,2397],[84.510,2397],[84.534,2486],[84.541,2397],[84.560,2397],[84.580,2397],[84.600,2397],[84.619,2473],[84.619,2422],[84.652,2397],[84.670,2397],[84.698,2384],[84.698,2345],[84.720,2397],[84.744,2397],[84.752,2876],[84.759,2519],[84.780,2397],[84.803,2397],[84.820,2397],[84.842,2473],[84.862,2422],[84.875,2384]];
const hGreen = [[83.083,14.84],[83.099,12.35],
[83.096,7.89],[83.163,7.31],[83.171,6.93],[83.175,7.05],[83.181,7.87],[83.240,7.85],[83.250,7.70],[83.255,7.07],[83.263,7.85],[83.313,6.58],[83.320,6.43],[83.323,7.05],[83.339,6.91],[83.345,9.03],[83.396,6.02],[83.398,6.60],[83.401,7.05],[83.405,6.87],[83.415,7.87],[83.456,7.07],[83.465,6.70],[83.470,7.93],[83.474,6.81],[83.487,7.10],[83.494,7.90],[83.543,7.11],[83.558,7.03],[83.565,7.77],[83.569,6.93],[83.573,9.02],[83.628,6.02],[83.641,7.15],[83.641,6.87],[83.647,7.89],[83.648,6.98],[83.651,8.07],[83.700,5.81],[83.713,6.93],[83.718,7.99],[83.720,6.95],[83.730,9.11],[83.770,7.95],[83.776,5.97],[83.798,7.11],[83.803,7.95],[83.808,6.87],[83.846,7.77],[83.853,6.79],[83.855,7.80],[83.874,6.56],[83.880,8.91],[83.884,6.93],[83.912,8.70],[83.920,7.49],[83.927,7.16],[83.958,6.98],[83.959,8.91],
[83.977,6.93],[83.992,10.69],[84.020,6.09],[84.029,6.47],[84.036,7.05],[84.049,6.93],[84.053,9.0],[84.092,8.09],[84.107,6.52],[84.114,6.93],[84.127,7.95],[84.130,6.84],[84.193,6.93],[84.193,5.74],[84.207,8.97],[84.209,6.91],[84.249,6.44],[84.252,7.05],[84.274,6.91],[84.282,7.89],[84.328,6.79],[84.331,8.03],[84.354,6.95],[84.357,7.95],[84.361,6.91],[84.418,5.86],[84.421,7.25],[84.424,7.68],[84.433,8.03],[84.437,6.93],[84.443,8.97],[84.488,8.23],[84.493,5.78],[84.506,6.93],[84.515,7.95],[84.566,6.93],[84.567,5.78],[84.585,6.87],[84.591,7.86],[84.593,8.0],[84.630,7.59],[84.636,7.74],[84.644,6.93],[84.668,8.91],[84.671,6.87],[84.717,5.92],[84.724,6.98],[84.743,6.93],[84.743,8.89],[84.754,9.59],[84.796,6.93],[84.803,9.95],[84.811,7.84],[84.815,6.91],[84.859,6.56],[84.860,7.68],[84.863,7.86],[84.875,7.90],[84.877,9.0],[84.879,6.93]];

const panels = [
  { id: 'A', col: 0, row: 0, xDomain: [48.5, 49.1], xTicks: aTimeTicks, fTicks: freq1200, mTicks: mult8, blue: aBlue, red: aRed, green: aGreen },
  { id: 'B', col: 1, row: 0, xDomain: [2.7, 3.7], xTicks: bTimeTicks, fTicks: freq3000, mTicks: mult8, blue: bBlue, red: bRed, green: bGreen },
  { id: 'C', col: 0, row: 1, xDomain: [3.1, 4.6], xTicks: cTimeTicks, fTicks: freq1600, mTicks: mult1to10, blue: cBlue, red: rows(cRedRows), green: cGreen },
  { id: 'D', col: 1, row: 1, xDomain: [22.596, 22.625], xTicks: dTimeTicks, fTicks: freq4000, mTicks: mult15, blue: dBlue, red: dRed, green: dGreen },
  { id: 'E', col: 0, row: 2, xDomain: [0.35, 0.75], xTicks: eTimeTicks, fTicks: freq3500, mTicks: mult8, blue: eBlue, red: eRed, green: eGreen },
  { id: 'F', col: 1, row: 2, xDomain: [1.2, 5.0], xTicks: fTimeTicks, fTicks: freq3500, mTicks: mult10, blue: fBlue, red: rows(fRedRows).concat(fRedExtra), green: fGreenExtra.concat(rows(fGreenRows)) },
  { id: 'G', col: 0, row: 3, xDomain: [2.3, 7.0], xTicks: gTimeTicks, fTicks: freq1600, mTicks: mult13, blue: gBlueExtra.concat(rows(gBlueRows)), red: rows(gRedRows).concat(gRedExtra), green: gGreen },
  { id: 'H', col: 1, row: 3, xDomain: [82.5, 85.4], xTicks: hTimeTicks, fTicks: freq3500, mTicks: mult16, blue: hBlue, red: hRed, green: hGreen },
];

const W = 1876, H = 2248;
const ROW_TOPS = [21, 578, 1135, 1691];
const PLOT_H = 456;
const COLS = [[124.7, 874.2], [1040.4, 1778]];
const GRID = '#868686';
const TICK_FONT = "Carlito, 'Liberation Sans Narrow', 'DejaVu Sans Condensed', 'Liberation Sans', sans-serif";
const TITLE_FONT = "'Open Sans', 'DejaVu Sans', sans-serif";

const squarePath = d3.symbol().type(d3.symbolSquare).size(121)();
const triSize = 74;
const triPath = d3.symbol().type(d3.symbolTriangle).size(triSize)();
const triShift = Math.sqrt((4 * triSize) / Math.sqrt(3)) * Math.sqrt(3) / 12; // centre the box, like excel

const Panel = ({ p }) => {
  const [x0, x1] = COLS[p.col];
  const y0 = ROW_TOPS[p.row];
  const y1 = y0 + PLOT_H;
  const fMax = p.fTicks[p.fTicks.length - 1];
  const x = d3.scaleLinear().domain(p.xDomain).range([x0, x1]);
  const yF = d3.scaleLinear().domain([0, fMax]).range([y1, y0]);
  const yM = d3.scaleLinear().domain([p.mTicks[0], p.mTicks[p.mTicks.length - 1]]).range([y1, y0]);

  return (
    <g>
      {p.mTicks.map(v => (
        <line key={'g' + v} x1={x0} x2={x1} y1={yM(v)} y2={yM(v)} stroke={GRID} strokeWidth={1.2} />
      ))}
      <line x1={x0} x2={x0} y1={y0} y2={y1} stroke={GRID} strokeWidth={1.2} />
      <line x1={x1} x2={x1} y1={y0} y2={y1} stroke="#a9a9a9" strokeWidth={1} />
      <line x1={x0} x2={x1} y1={y1} y2={y1} stroke={GRID} strokeWidth={1.2} />

      {p.fTicks.map(v => (
        <g key={'f' + v}>
          <line x1={x0 - 7} x2={x0} y1={yF(v)} y2={yF(v)} stroke={GRID} strokeWidth={1.2} />
          <text x={x0 - 21} y={yF(v)} dy="0.36em" textAnchor="end" fontFamily={TICK_FONT} fontSize={23} fill="#000">{v}</text>
        </g>
      ))}
      {p.mTicks.map(v => (
        <g key={'m' + v}>
          <line x1={x1} x2={x1 + 7} y1={yM(v)} y2={yM(v)} stroke={GRID} strokeWidth={1.2} />
          <text x={x1 + 21} y={yM(v)} dy="0.36em" textAnchor="start" fontFamily={TICK_FONT} fontSize={23} fill="#000">{v}</text>
        </g>
      ))}
      {p.xTicks.map(v => (
        <g key={'x' + v}>
          <line x1={x(v)} x2={x(v)} y1={y1} y2={y1 + 8} stroke={GRID} strokeWidth={1.2} />
          <text x={x(v)} y={y1 + 40} textAnchor="middle" fontFamily={TICK_FONT} fontSize={23} fill="#000">{String(v)}</text>
        </g>
      ))}

      <text x={x0 + 20} y={y0 + 47} fontFamily={TICK_FONT} fontWeight="bold" fontSize={56} fill="#000">{p.id}</text>

      {p.blue.map((d, i) => (
        <circle key={'b' + i} cx={x(d[0])} cy={yF(d[1])} r={5.4} fill="#c9dcf2" stroke="#4478ba" strokeWidth={2} />
      ))}
      {p.red.map((d, i) => (
        <path key={'r' + i} d={squarePath} transform={`translate(${x(d[0])},${yF(d[1])})`} fill="#f3c8ca" stroke="#c0504d" strokeWidth={2} />
      ))}
      {p.green.map((d, i) => (
        <path key={'t' + i} d={triPath} transform={`translate(${x(d[0])},${yM(d[1]) + triShift})`} fill="#d3ead6" stroke="#9bbb59" strokeWidth={2} />
      ))}
    </g>
  );
};

export default function App() {
  return (
    <svg width={W} height={H} viewBox={`0 0 ${W} ${H}`} style={{ position: 'absolute', left: 0, top: 0, background: '#fff' }}>
      <rect width={W} height={H} fill="#fff" />
      {panels.map(p => <Panel key={p.id} p={p} />)}

      {ROW_TOPS.map(t => (
        <text key={'fy' + t} transform={`translate(41,${t + PLOT_H / 2}) rotate(-90)`} textAnchor="middle"
          fontFamily={TITLE_FONT} fontWeight="bold" fontSize={22} textLength={162} lengthAdjust="spacingAndGlyphs">Frequency (Hz)</text>
      ))}
      {ROW_TOPS.map(t => (
        <text key={'my' + t} transform={`translate(1853,${t + PLOT_H / 2}) rotate(-90)`} textAnchor="middle"
          fontFamily={TITLE_FONT} fontWeight="bold" fontSize={22} textLength={128} lengthAdjust="spacingAndGlyphs">Multiplicity</text>
      ))}
      {COLS.map(c => (
        <text key={'tx' + c[0]} x={(c[0] + c[1]) / 2} y={2224} textAnchor="middle" fontFamily={TICK_FONT}
          fontWeight="bold" fontSize={26} textLength={88} lengthAdjust="spacingAndGlyphs">Time (s)</text>
      ))}
    </svg>
  );
}
